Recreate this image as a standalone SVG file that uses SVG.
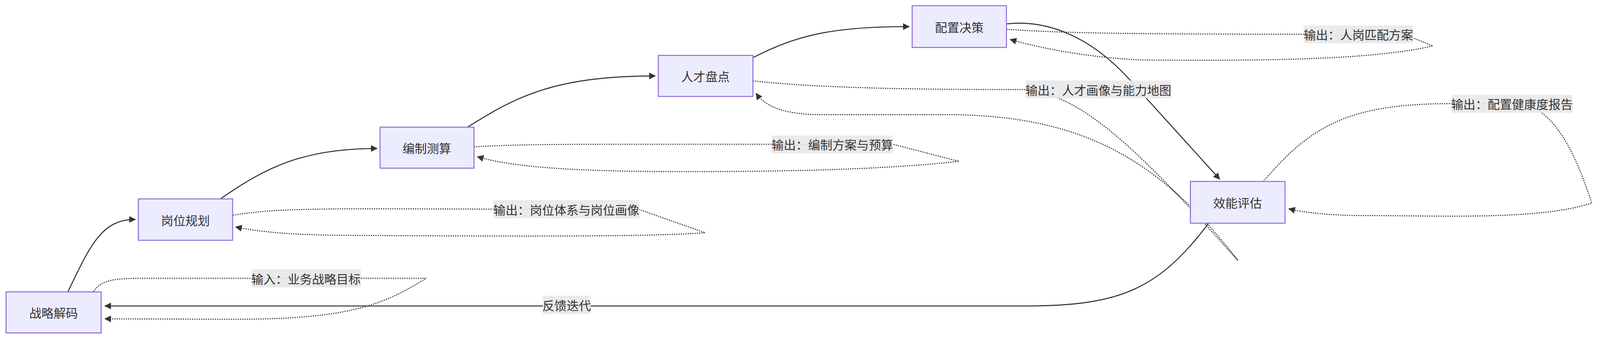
<svg xmlns="http://www.w3.org/2000/svg" width="4204" height="892" viewBox="0 0 4204 892">
<style>
.node rect{fill:#ECECFF;stroke:#9370DB;stroke-width:2.7}
text{font-family:"Noto Sans CJK SC","Liberation Sans",sans-serif;font-size:32px;fill:#333;text-anchor:middle;dominant-baseline:central}
.e{fill:none;stroke:#333;stroke-width:2.7}
.d{fill:none;stroke:#333;stroke-width:2.7;stroke-dasharray:3 3}
.lb{fill:#e8e8e8;opacity:0.9}
</style>
<defs>
<marker id="a" viewBox="0 0 10 10" refX="9" refY="5" markerWidth="8" markerHeight="8" markerUnits="userSpaceOnUse" orient="auto" style="overflow:visible">
<path d="M0,0 L10,5 L0,10 z" fill="#333" transform="scale(2.2) translate(-5,-2.7)"/>
</marker>
</defs>
<g transform="scale(0.973)">
<g id="edges">
<path class="e" d="M179,768 C240,640 270,578 356,578" marker-end="url(#a)"/>
<path class="e" d="M580,524 C700,440 800,391 992,391" marker-end="url(#a)"/>
<path class="e" d="M1230,335 C1350,260 1450,200 1724,200" marker-end="url(#a)"/>
<path class="e" d="M1981,152 C2100,90 2200,70 2392,70" marker-end="url(#a)"/>
<path class="e" d="M2648,63 C2760,50 2880,100 2990,230 L3209,472" marker-end="url(#a)"/>
<path class="e" d="M3180,588 C3050,760 2950,806 2700,806 L276,806" marker-end="url(#a)"/>
<path class="d" d="M246,768 C270,735 300,733 400,733 L1121,733 C1000,810 900,842 600,841 L276,840" marker-end="url(#a)"/>
<path class="d" d="M613,567 C700,552 800,550 1000,550 L1682,552 L1855,613 C1700,625 1300,622 900,620 C750,618 680,610 620,598" marker-end="url(#a)"/>
<path class="d" d="M1247,387 C1350,380 1500,380 1700,380 L2349,380 L2523,425 C2300,450 2000,452 1800,452 C1500,452 1350,440 1256,413" marker-end="url(#a)"/>
<path class="d" d="M1981,213 C2150,232 2400,236 2698,236 C2850,250 3000,400 3257,686 C3050,420 2850,305 2500,302 L2150,302 C2050,300 2010,275 1989,246" marker-end="url(#a)"/>
<path class="d" d="M2648,77 C2800,88 3000,90 3430,90 L3718,100 L3770,121 C3600,160 3300,160 3000,158 C2850,150 2730,125 2658,104" marker-end="url(#a)"/>
<path class="d" d="M3324,478 C3450,330 3550,273 3819,273 L4010,273 C4100,300 4150,420 4188,535 C4050,580 3800,568 3600,568 C3500,568 3430,560 3391,550" marker-end="url(#a)"/>
</g>
<g id="edge-labels">
<rect class="lb" x="662" y="709" width="287" height="48"/><text x="805" y="733">输入：业务战略目标</text>
<rect class="lb" x="1298" y="527" width="384" height="48"/><text x="1490" y="551">输出：岗位体系与岗位画像</text>
<rect class="lb" x="1428" y="779" width="126" height="48"/><text x="1491" y="803">反馈迭代</text>
<rect class="lb" x="2030" y="357" width="319" height="47"/><text x="2190" y="380">输出：编制方案与预算</text>
<rect class="lb" x="2698" y="212" width="383" height="47"/><text x="2890" y="236">输出：人才画像与能力地图</text>
<rect class="lb" x="3430" y="67" width="288" height="47"/><text x="3574" y="90">输出：人岗匹配方案</text>
<rect class="lb" x="3819" y="250" width="319" height="47"/><text x="3978" y="273">输出：配置健康度报告</text>
</g>
<g id="n1" class="node"><rect x="16" y="769" width="250" height="108"/><text x="141" y="823">战略解码</text></g>
<g id="n2" class="node"><rect x="364" y="524" width="248" height="109"/><text x="488" y="579">岗位规划</text></g>
<g id="n3" class="node"><rect x="1000" y="335" width="247" height="108"/><text x="1123" y="389">编制测算</text></g>
<g id="n4" class="node"><rect x="1732" y="146" width="249" height="108"/><text x="1856" y="200">人才盘点</text></g>
<g id="n5" class="node"><rect x="2400" y="15" width="248" height="110"/><text x="2524" y="70">配置决策</text></g>
<g id="n6" class="node"><rect x="3132" y="478" width="249" height="110"/><text x="3256" y="533">效能评估</text></g>
</g>
</svg>
